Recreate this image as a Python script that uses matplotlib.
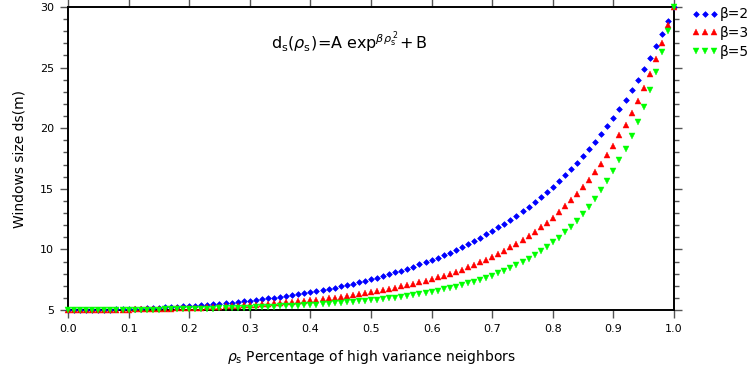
import matplotlib
matplotlib.use("Agg")
import matplotlib.pyplot as plt
import numpy as np
from matplotlib.ticker import MultipleLocator


# DATA
ds_beta2 = [5.00, 5.00, 5.00, 5.01, 5.01, 5.02, 5.03, 5.04, 5.05, 5.06,
            5.08, 5.10, 5.11, 5.13, 5.16, 5.18, 5.21, 5.23, 5.26, 5.29,
            5.33, 5.36, 5.40, 5.44, 5.48, 5.52, 5.57, 5.61, 5.66, 5.72,
            5.77, 5.83, 5.89, 5.95, 6.02, 6.09, 6.16, 6.23, 6.31, 6.39,
            6.48, 6.56, 6.66, 6.75, 6.85, 6.95, 7.06, 7.17, 7.29, 7.41,
            7.54, 7.67, 7.81, 7.95, 8.10, 8.25, 8.41, 8.58, 8.76, 8.94,
            9.13, 9.32, 9.53, 9.74, 9.96, 10.20, 10.44, 10.69, 10.95, 11.23,
            11.51, 11.81, 12.12, 12.45, 12.79, 13.14, 13.51, 13.90, 14.30, 14.72,
            15.16, 15.62, 16.10, 16.61, 17.13, 17.69, 18.26, 18.87, 19.50, 20.16,
            20.86, 21.59, 22.35, 23.15, 24.00, 24.88, 25.80, 26.78, 27.80, 28.87,
            30.00]

ds_beta3 = [5.00, 5.00, 5.00, 5.00, 5.01, 5.01, 5.01, 5.02, 5.03, 5.03,
            5.04, 5.05, 5.06, 5.07, 5.08, 5.09, 5.10, 5.12, 5.13, 5.15,
            5.17, 5.19, 5.20, 5.23, 5.25, 5.27, 5.29, 5.32, 5.35, 5.38,
            5.41, 5.44, 5.47, 5.51, 5.54, 5.58, 5.62, 5.67, 5.71, 5.76,
            5.81, 5.86, 5.91, 5.97, 6.03, 6.09, 6.16, 6.23, 6.30, 6.38,
            6.46, 6.55, 6.64, 6.73, 6.83, 6.94, 7.05, 7.16, 7.28, 7.41,
            7.55, 7.69, 7.84, 8.00, 8.17, 8.34, 8.53, 8.73, 8.93, 9.15,
            9.39, 9.63, 9.89, 10.17, 10.46, 10.77, 11.10, 11.45, 11.82, 12.21,
            12.62, 13.07, 13.54, 14.04, 14.57, 15.13, 15.74, 16.38, 17.06, 17.79,
            18.57, 19.40, 20.29, 21.23, 22.25, 23.33, 24.49, 25.73, 27.05, 28.48,
            30.00]

ds_beta5 = [5.00, 5.00, 5.00, 5.00, 5.00, 5.00, 5.01, 5.01, 5.01, 5.02,
            5.02, 5.02, 5.03, 5.03, 5.04, 5.04, 5.05, 5.06, 5.06, 5.07,
            5.08, 5.09, 5.10, 5.11, 5.12, 5.13, 5.14, 5.16, 5.17, 5.19,
            5.20, 5.22, 5.24, 5.25, 5.27, 5.29, 5.32, 5.34, 5.36, 5.39,
            5.42, 5.45, 5.48, 5.51, 5.55, 5.58, 5.62, 5.66, 5.71, 5.75,
            5.80, 5.85, 5.91, 5.97, 6.03, 6.10, 6.17, 6.24, 6.32, 6.41,
            6.50, 6.60, 6.70, 6.82, 6.93, 7.06, 7.20, 7.34, 7.50, 7.67,
            7.84, 8.04, 8.24, 8.46, 8.70, 8.96, 9.23, 9.53, 9.85, 10.20,
            10.57, 10.97, 11.40, 11.87, 12.38, 12.93, 13.52, 14.16, 14.86, 15.62,
            16.44, 17.34, 18.31, 19.37, 20.52, 21.78, 23.14, 24.64, 26.27, 28.05,
            30.00]

rho = np.linspace(0.0, 1.0, len(ds_beta2))
labels = ["β=2", "β=3", "β=5"]


# PLOT
fig = plt.figure(figsize=(7.52, 3.74), dpi=100)
ax = fig.add_axes([0.0904, 0.1711, 0.8059, 0.8102])

ax.plot(rho, ds_beta2, ls="none", marker="D", ms=2.9, color="#0000ff",
        mec="#0000ff", mew=0.5, clip_on=False, label=labels[0], zorder=3)
ax.plot(rho, ds_beta3, ls="none", marker="^", ms=4.0, color="#ff0000",
        mec="#ff0000", mew=0.3, clip_on=False, label=labels[1], zorder=4)
ax.plot(rho, ds_beta5, ls="none", marker="v", ms=4.0, color="#00ff00",
        mec="#00ff00", mew=0.3, clip_on=False, label=labels[2], zorder=5)

ax.set_xlim(0, 1)
ax.set_ylim(5, 30)
ax.yaxis.set_major_locator(MultipleLocator(5))
ax.yaxis.set_minor_locator(MultipleLocator(1))
ax.set_xticks(np.arange(0, 1.01, 0.1))
ax.set_xticklabels([f"{v:.1f}" for v in np.arange(0, 1.01, 0.1)])

ax.tick_params(which="both", direction="out", top=True, right=True,
               color="#555555", width=1, labelsize=8, labelcolor="black")
ax.tick_params(which="major", length=6, pad=4)
ax.tick_params(which="minor", length=3.5)
for s in ax.spines.values():
    s.set_linewidth(1.4)
    s.set_color("black")

ax.set_ylabel("Windows size ds(m)", fontsize=10, labelpad=10)
ax.set_xlabel(r"$\rho_{\rm s}$ Percentage of high variance neighbors",
              fontsize=10, labelpad=10)

ax.text(0.464, 0.885,
        r"$\mathrm{d_s}(\rho_{\mathrm{s}})\!=\!\mathrm{A\;exp}^{\beta\rho_{\mathrm{s}}^{\;2}}\!+\mathrm{B}$",
        transform=ax.transAxes, ha="center", va="center", fontsize=11.5)

fig.legend(loc="upper left", bbox_to_anchor=(0.912, 0.995), frameon=False,
           numpoints=3, fontsize=10, handlelength=1.9, handletextpad=0.15,
           labelspacing=0.35, borderaxespad=0.0)

plt.savefig("out.png", dpi=100)
